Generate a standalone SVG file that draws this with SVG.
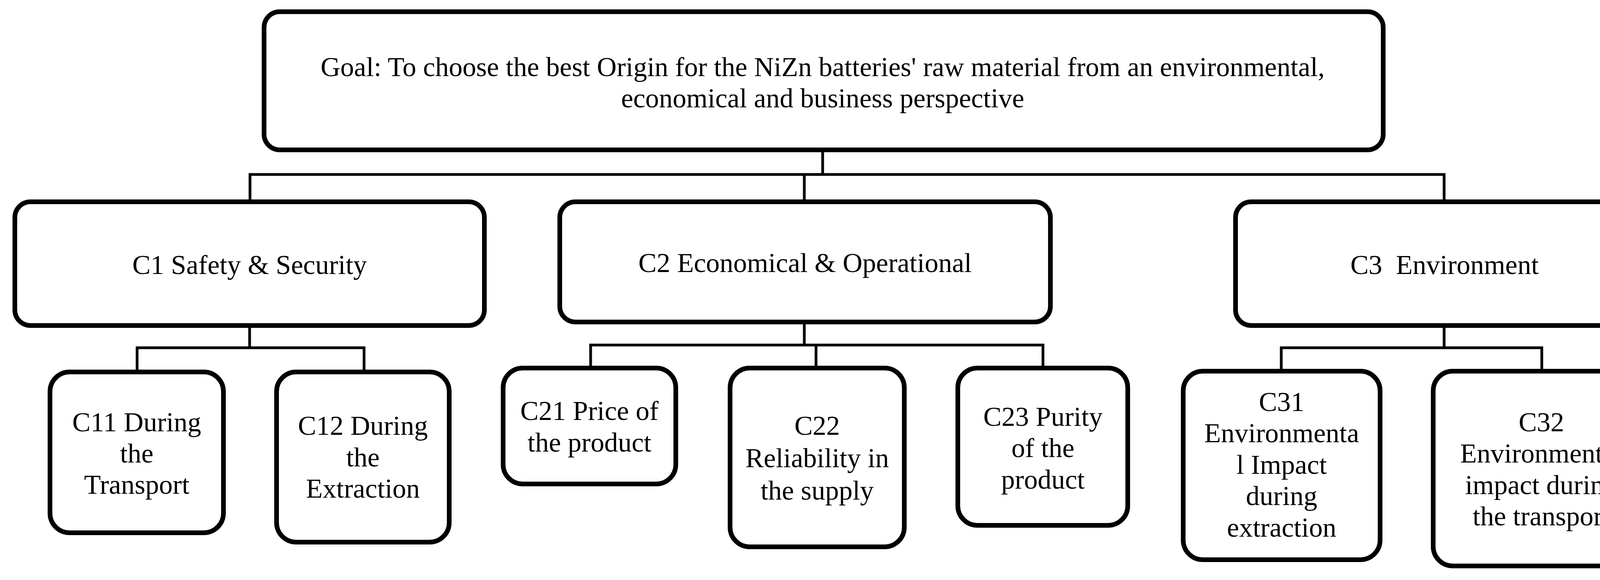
<svg xmlns="http://www.w3.org/2000/svg" width="4272" height="1486" viewBox="0 0 4272 1486">
<style>
.b{fill:#fff;stroke:#000;stroke-width:12}
.c{fill:none;stroke:#000;stroke-width:7}
text{font-family:"Liberation Serif",serif;font-size:70px;text-anchor:middle;dominant-baseline:central;fill:#000}
</style>
<rect width="4272" height="1486" fill="#fff"/>
<g id="connectors">
<path class="c" d="M2106 384V447M640 517V447H3697V517M2059 447V517"/>
<path class="c" d="M639 834V891M351 953V891H932V953"/>
<path class="c" d="M2059 825V884M1512 943V884H2670V943M2089 884V943"/>
<path class="c" d="M3697 834V891M3280 951V891H3947V951"/>
</g>
<g id="goal"><rect class="b" x="676" y="30" width="2865" height="354" rx="40"/>
<text x="2106" y="171">Goal: To choose the best Origin for the NiZn batteries' raw material from an environmental,</text>
<text x="2106" y="251">economical and business perspective</text></g>
<g id="c1"><rect class="b" x="38" y="517" width="1202" height="317" rx="40"/><text x="639" y="678">C1 Safety &amp; Security</text></g>
<g id="c2"><rect class="b" x="1433" y="517" width="1256" height="308" rx="40"/><text x="2061" y="673">C2 Economical &amp; Operational</text></g>
<g id="c3"><rect class="b" x="3163" y="517" width="1070" height="317" rx="40"/><text x="3698" y="678" xml:space="preserve">C3  Environment</text></g>
<g id="c11"><rect class="b" x="128" y="953" width="444" height="412" rx="50"/><text x="350" y="1081">C11 During</text><text x="350" y="1161">the</text><text x="350" y="1241">Transport</text></g>
<g id="c12"><rect class="b" x="708" y="953" width="442" height="436" rx="50"/><text x="929" y="1090">C12 During</text><text x="929" y="1171">the</text><text x="929" y="1251">Extraction</text></g>
<g id="c21"><rect class="b" x="1288" y="943" width="442" height="297" rx="50"/><text x="1509" y="1052">C21 Price of</text><text x="1509" y="1133">the product</text></g>
<g id="c22"><rect class="b" x="1869" y="943" width="446" height="458" rx="50"/><text x="2092" y="1090">C22</text><text x="2092" y="1173">Reliability in</text><text x="2092" y="1256">the supply</text></g>
<g id="c23"><rect class="b" x="2452" y="943" width="435" height="403" rx="50"/><text x="2670" y="1067">C23 Purity</text><text x="2670" y="1147">of the</text><text x="2670" y="1228">product</text></g>
<g id="c31"><rect class="b" x="3029" y="951" width="504" height="483" rx="50"/><text x="3281" y="1029">C31</text><text x="3281" y="1109">Environmenta</text><text x="3281" y="1190">l Impact</text><text x="3281" y="1270">during</text><text x="3281" y="1351">extraction</text></g>
<g id="c32"><rect class="b" x="3669" y="951" width="553" height="499" rx="50"/><text x="3946" y="1081">C32</text><text x="3946" y="1161">Environmental</text><text x="3946" y="1242">impact during</text><text x="3946" y="1322">the transport</text></g>
</svg>
